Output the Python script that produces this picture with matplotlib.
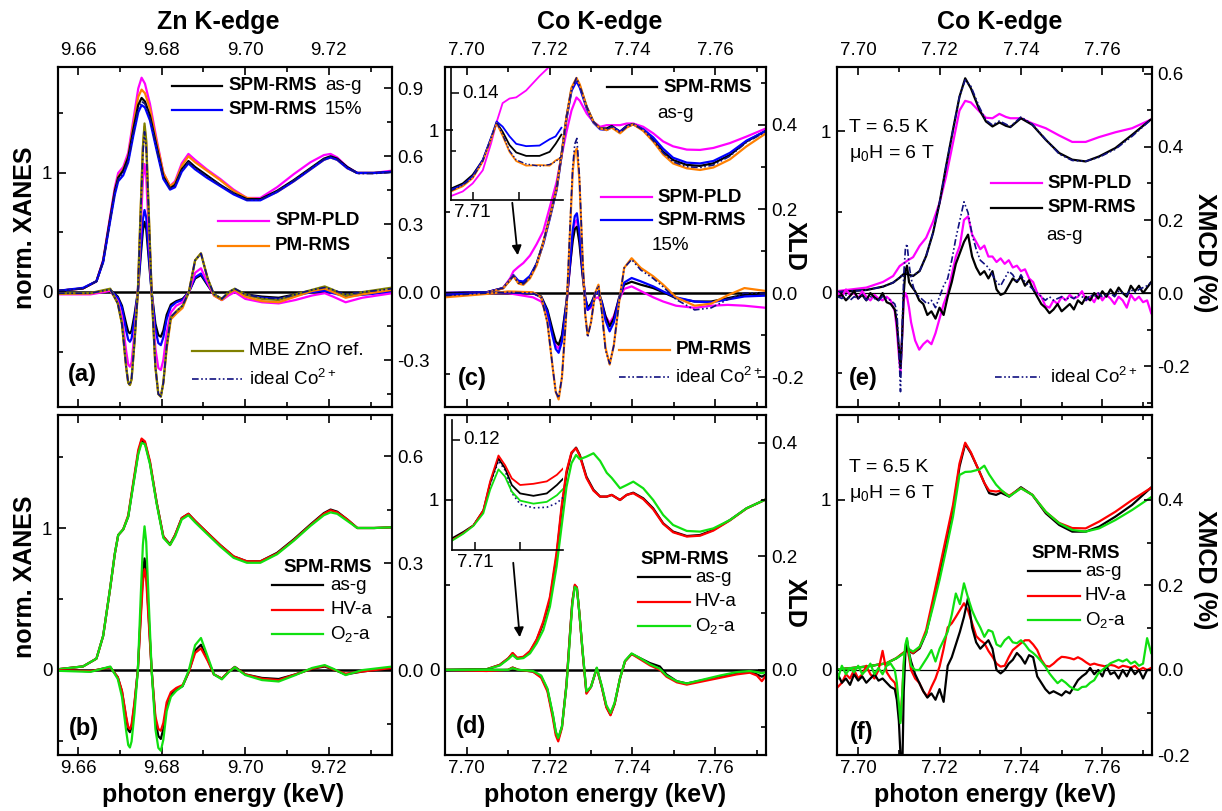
import matplotlib
matplotlib.use('Agg')
import matplotlib.pyplot as plt
from matplotlib.lines import Line2D
from matplotlib.ticker import MultipleLocator, FormatStrFormatter, FixedLocator

plt.rcParams['font.family'] = 'Liberation Sans'
plt.rcParams['mathtext.fontset'] = 'custom'
plt.rcParams['mathtext.rm'] = 'Liberation Sans'
plt.rcParams['mathtext.it'] = 'Liberation Sans:italic'
plt.rcParams['mathtext.bf'] = 'Liberation Sans:bold'
plt.rcParams['axes.unicode_minus'] = False

# ---------------- (a) Zn K-edge ----------------
e_zn = [9.6552, 9.6612, 9.6644, 9.6660, 9.6676, 9.6688, 9.6696, 9.6708, 9.6720, 9.6732,
        9.6744, 9.6752, 9.6760, 9.6772, 9.6788, 9.6804, 9.6820, 9.6832, 9.6848, 9.6864,
        9.6880, 9.6908, 9.6940, 9.6972, 9.7004, 9.7036, 9.7076, 9.7116, 9.7156, 9.7188,
        9.7204, 9.7220, 9.7244, 9.7268, 9.7308, 9.7352]
xanes_a_asg = [0.01, 0.03, 0.09, 0.26, 0.60, 0.85, 0.96, 1.02, 1.13, 1.36, 1.57, 1.63, 1.60, 1.48, 1.22, 0.97, 0.87, 0.90,
               1.03, 1.10, 1.05, 0.98, 0.90, 0.83, 0.78, 0.78, 0.85, 0.94, 1.04, 1.12, 1.14, 1.12, 1.05, 1.00, 1.00, 1.01]
xanes_a_15 = [0.01, 0.035, 0.09, 0.25, 0.58, 0.82, 0.93, 0.98, 1.09, 1.31, 1.51, 1.57, 1.55, 1.44, 1.19, 0.95, 0.86, 0.88,
              1.01, 1.08, 1.03, 0.96, 0.89, 0.82, 0.77, 0.77, 0.84, 0.93, 1.03, 1.11, 1.13, 1.11, 1.04, 1.00, 1.00, 1.01]
xanes_a_pld = [0.01, 0.03, 0.09, 0.27, 0.62, 0.88, 1.00, 1.05, 1.17, 1.44, 1.71, 1.80, 1.75, 1.58, 1.28, 1.00, 0.89, 0.93,
               1.08, 1.16, 1.11, 1.03, 0.95, 0.86, 0.79, 0.79, 0.88, 0.99, 1.09, 1.15, 1.16, 1.13, 1.05, 1.00, 1.00, 1.02]
xanes_a_pm = [0.01, 0.03, 0.09, 0.26, 0.60, 0.85, 0.97, 1.03, 1.14, 1.40, 1.64, 1.70, 1.67, 1.54, 1.26, 1.00, 0.89, 0.92,
              1.06, 1.14, 1.09, 1.02, 0.94, 0.85, 0.79, 0.78, 0.84, 0.93, 1.03, 1.11, 1.13, 1.11, 1.04, 1.00, 1.00, 1.01]
xanes_a_ideal = [0.01, 0.03, 0.09, 0.25, 0.59, 0.84, 0.95, 1.00, 1.10, 1.33, 1.54, 1.60, 1.58, 1.46, 1.20, 0.96, 0.87, 0.89,
                 1.02, 1.09, 1.04, 0.97, 0.90, 0.83, 0.775, 0.775, 0.845, 0.935, 1.035, 1.115, 1.135, 1.115, 1.045, 0.995, 0.995, 1.005]

e_zn_xld = [9.6552, 9.6630, 9.6677, 9.6695, 9.6705, 9.6715, 9.6720, 9.6724, 9.6728, 9.6735,
            9.6743, 9.6750, 9.6755, 9.6759, 9.6763, 9.6768, 9.6776, 9.6785, 9.6792, 9.6798,
            9.6804, 9.6812, 9.6822, 9.6835, 9.6850, 9.6865, 9.6880, 9.6894, 9.6910, 9.6925,
            9.6944, 9.6960, 9.6975, 9.7000, 9.7040, 9.7080, 9.7120, 9.7160, 9.7190, 9.7210,
            9.7240, 9.7280, 9.7352]
xld_a_asg = [-0.004, -0.006, 0.01, -0.02, -0.06, -0.14, -0.175, -0.182, -0.17, -0.10, 0.0, 0.16, 0.27, 0.31, 0.28, 0.17,
             0.0, -0.14, -0.19, -0.197, -0.17, -0.10, -0.055, -0.04, -0.03, 0.0, 0.06, 0.075, 0.03, -0.01, -0.03, -0.005,
             0.01, -0.01, -0.02, -0.025, -0.01, 0.005, 0.01, 0.0, -0.015, -0.008, 0.005]
xld_a_15 = [-0.004, -0.006, 0.01, -0.025, -0.07, -0.17, -0.21, -0.219, -0.205, -0.12, 0.0, 0.19, 0.32, 0.362, 0.33, 0.2,
            0.0, -0.165, -0.225, -0.234, -0.2, -0.12, -0.065, -0.045, -0.035, 0.0, 0.065, 0.082, 0.035, -0.01, -0.035,
            -0.01, 0.008, -0.012, -0.025, -0.03, -0.015, 0.0, 0.005, -0.005, -0.018, -0.012, 0.0]
xld_a_pld = [-0.01, -0.01, 0.005, -0.04, -0.11, -0.26, -0.32, -0.329, -0.31, -0.18, 0.0, 0.29, 0.49, 0.565, 0.51, 0.31,
             0.0, -0.25, -0.335, -0.344, -0.3, -0.18, -0.09, -0.06, -0.045, 0.0, 0.085, 0.105, 0.04, -0.015, -0.035,
             -0.015, 0.0, -0.03, -0.045, -0.05, -0.035, -0.015, -0.005, -0.02, -0.045, -0.025, -0.005]
xld_a_mbe = [-0.005, -0.004, 0.015, -0.05, -0.14, -0.33, -0.40, -0.41, -0.385, -0.22, 0.0, 0.38, 0.64, 0.744, 0.67, 0.41,
             0.0, -0.33, -0.45, -0.462, -0.40, -0.24, -0.11, -0.085, -0.06, 0.0, 0.14, 0.171, 0.06, -0.01, -0.03, 0.0,
             0.015, -0.01, -0.03, -0.035, -0.01, 0.01, 0.025, 0.01, -0.015, 0.0, 0.02]
xld_a_pm = [-0.008, -0.006, 0.012, -0.05, -0.14, -0.33, -0.40, -0.41, -0.385, -0.22, 0.0, 0.37, 0.63, 0.73, 0.66, 0.40,
            0.0, -0.33, -0.45, -0.46, -0.40, -0.25, -0.12, -0.095, -0.07, 0.0, 0.14, 0.17, 0.06, -0.015, -0.035, -0.005,
            0.01, -0.02, -0.04, -0.045, -0.02, 0.005, 0.015, 0.0, -0.025, -0.01, 0.01]
xld_a_ideal = [-0.005, -0.005, 0.012, -0.05, -0.14, -0.33, -0.40, -0.41, -0.38, -0.22, 0.0, 0.36, 0.61, 0.707, 0.64, 0.40,
               0.0, -0.33, -0.45, -0.46, -0.40, -0.24, -0.11, -0.085, -0.06, 0.0, 0.14, 0.17, 0.06, -0.01, -0.03, 0.0,
               0.015, -0.01, -0.025, -0.03, -0.01, 0.01, 0.02, 0.01, -0.01, 0.0, 0.015]

# ---------------- (b) Zn K-edge, annealing ----------------
xanes_b_asg = [0.005, 0.025, 0.08, 0.24, 0.56, 0.82, 0.95, 0.99, 1.08, 1.31, 1.53, 1.62, 1.60, 1.46, 1.18, 0.94, 0.885, 0.95,
               1.07, 1.10, 1.05, 0.97, 0.88, 0.80, 0.765, 0.765, 0.825, 0.92, 1.025, 1.105, 1.13, 1.115, 1.06, 1.00, 1.00, 1.005]
xanes_b_hv = [0.005, 0.025, 0.08, 0.24, 0.56, 0.82, 0.95, 0.99, 1.09, 1.32, 1.55, 1.63, 1.61, 1.47, 1.18, 0.94, 0.88, 0.95,
              1.07, 1.10, 1.05, 0.97, 0.88, 0.80, 0.765, 0.765, 0.82, 0.915, 1.02, 1.10, 1.125, 1.11, 1.06, 1.00, 1.00, 1.005]
xanes_b_o2 = [0.005, 0.025, 0.08, 0.24, 0.56, 0.82, 0.95, 0.99, 1.08, 1.30, 1.52, 1.60, 1.59, 1.45, 1.17, 0.93, 0.88, 0.94,
              1.06, 1.09, 1.04, 0.96, 0.87, 0.79, 0.755, 0.755, 0.815, 0.91, 1.015, 1.09, 1.11, 1.10, 1.05, 1.00, 1.00, 1.005]
xld_b_asg = [0.0, -0.003, 0.008, -0.02, -0.06, -0.135, -0.168, -0.174, -0.16, -0.095, 0.0, 0.16, 0.27, 0.313, 0.28, 0.17,
             0.0, -0.14, -0.185, -0.193, -0.165, -0.1, -0.068, -0.055, -0.045, -0.005, 0.055, 0.071, 0.03, -0.012, -0.024,
             -0.005, 0.009, -0.012, -0.022, -0.025, -0.012, 0.004, 0.01, 0.002, -0.012, -0.004, 0.006]
xld_b_hv = [0.0, -0.003, 0.008, -0.02, -0.058, -0.13, -0.16, -0.165, -0.152, -0.09, 0.0, 0.145, 0.245, 0.283, 0.255, 0.155,
            0.0, -0.13, -0.165, -0.17, -0.148, -0.09, -0.062, -0.05, -0.042, -0.005, 0.048, 0.061, 0.026, -0.012, -0.024,
            -0.005, 0.008, -0.012, -0.024, -0.028, -0.012, 0.004, 0.012, 0.002, -0.01, -0.004, 0.006]
xld_b_o2 = [-0.002, -0.005, 0.01, -0.025, -0.075, -0.17, -0.21, -0.217, -0.2, -0.12, 0.0, 0.21, 0.35, 0.403, 0.36, 0.22,
            0.0, -0.165, -0.218, -0.226, -0.195, -0.115, -0.075, -0.058, -0.045, 0.0, 0.07, 0.09, 0.038, -0.012, -0.026,
            -0.006, 0.008, -0.014, -0.028, -0.032, -0.014, 0.006, 0.014, 0.004, -0.014, 0.0, 0.01]

# ---------------- (c) Co K-edge ----------------
e_co_c = [7.6948, 7.7048, 7.7088, 7.7105, 7.7113, 7.7125, 7.7137, 7.7153, 7.7169, 7.7185,
          7.7201, 7.7217, 7.7229, 7.7241, 7.7253, 7.7265, 7.7273, 7.7290, 7.7306, 7.7322,
          7.7338, 7.7350, 7.7370, 7.7386, 7.7402, 7.7426, 7.7450, 7.7474, 7.7498, 7.7531,
          7.7563, 7.7595, 7.7635, 7.7675, 7.7722]
xanes_c_asg = [0.0, 0.004, 0.03, 0.08, 0.106, 0.065, 0.06, 0.10, 0.18, 0.31, 0.47, 0.64, 0.85, 1.08, 1.25, 1.31, 1.27, 1.14,
               1.05, 1.01, 1.01, 1.025, 0.99, 1.025, 1.037, 1.0, 0.94, 0.867, 0.816, 0.786, 0.78, 0.796, 0.847, 0.93, 0.996]
xanes_c_15 = [0.0, 0.004, 0.03, 0.082, 0.11, 0.075, 0.07, 0.105, 0.18, 0.30, 0.46, 0.63, 0.84, 1.07, 1.24, 1.30, 1.26, 1.13,
              1.045, 1.005, 1.0, 1.02, 0.99, 1.02, 1.035, 1.005, 0.955, 0.885, 0.83, 0.80, 0.795, 0.81, 0.86, 0.935, 0.995]
xanes_c_pld = [0.0, 0.004, 0.03, 0.09, 0.133, 0.16, 0.184, 0.23, 0.30, 0.38, 0.53, 0.68, 0.84, 0.99, 1.12, 1.20, 1.18, 1.10,
               1.05, 1.02, 1.03, 1.03, 1.03, 1.04, 1.04, 1.02, 0.98, 0.93, 0.90, 0.88, 0.878, 0.89, 0.92, 0.96, 1.01]
xanes_c_pm = [-0.01, 0.0, 0.028, 0.078, 0.105, 0.058, 0.05, 0.09, 0.17, 0.31, 0.47, 0.64, 0.85, 1.08, 1.26, 1.32, 1.28, 1.14,
              1.05, 1.01, 1.0, 1.015, 0.98, 1.015, 1.035, 0.995, 0.93, 0.85, 0.795, 0.765, 0.755, 0.77, 0.82, 0.90, 0.98]
xanes_c_ideal = [0.0, 0.004, 0.03, 0.08, 0.106, 0.06, 0.055, 0.095, 0.18, 0.31, 0.47, 0.64, 0.85, 1.08, 1.25, 1.32, 1.27, 1.14,
                 1.05, 1.01, 1.005, 1.02, 0.985, 1.02, 1.035, 1.0, 0.935, 0.86, 0.805, 0.775, 0.77, 0.785, 0.84, 0.925, 0.99]

e_co_xld_c = [7.6948, 7.7048, 7.7100, 7.7160, 7.7180, 7.7195, 7.7208, 7.7215, 7.7222, 7.7230,
              7.7241, 7.7250, 7.7256, 7.7261, 7.7266, 7.7272, 7.7280, 7.7286, 7.7292, 7.7300,
              7.7310, 7.7318, 7.7326, 7.7335, 7.7345, 7.7355, 7.7368, 7.7380, 7.7398, 7.7420,
              7.7450, 7.7474, 7.7505, 7.7550, 7.7590, 7.7630, 7.7670, 7.7722]
xld_c_asg = [-0.004, 0.0, 0.002, 0.0, -0.008, -0.04, -0.09, -0.115, -0.123, -0.10, -0.02, 0.07, 0.125, 0.152, 0.158, 0.12,
             0.04, -0.01, -0.035, -0.025, -0.002, 0.002, -0.02, -0.055, -0.079, -0.06, -0.01, 0.02, 0.027, 0.02, 0.012,
             0.002, -0.012, -0.02, -0.02, -0.012, -0.004, 0.0]
xld_c_15 = [-0.004, 0.0, 0.002, 0.0, -0.01, -0.045, -0.105, -0.133, -0.142, -0.115, -0.025, 0.08, 0.15, 0.183, 0.19, 0.145,
            0.05, -0.01, -0.04, -0.03, -0.003, 0.004, -0.022, -0.065, -0.091, -0.07, -0.012, 0.025, 0.036, 0.028, 0.016,
            0.004, -0.01, -0.02, -0.022, -0.015, -0.008, -0.006]
xld_c_pld = [-0.004, 0.0, 0.0, -0.01, -0.02, -0.05, -0.1, -0.125, -0.132, -0.105, -0.025, 0.07, 0.135, 0.168, 0.174, 0.13,
             0.045, -0.01, -0.04, -0.035, -0.012, -0.01, -0.025, -0.055, -0.071, -0.055, -0.015, 0.01, 0.016, 0.005, -0.01,
             -0.02, -0.03, -0.035, -0.03, -0.028, -0.03, -0.035]
xld_c_pm = [-0.01, -0.002, 0.004, 0.002, -0.01, -0.07, -0.18, -0.235, -0.253, -0.2, -0.04, 0.16, 0.29, 0.335, 0.344, 0.27,
            0.08, -0.05, -0.1, -0.07, 0.0, 0.02, -0.04, -0.13, -0.17, -0.125, -0.02, 0.06, 0.083, 0.06, 0.04, 0.02, -0.01,
            -0.03, -0.025, -0.005, 0.012, 0.005]
xld_c_ideal = [-0.006, 0.0, 0.002, 0.0, -0.01, -0.07, -0.18, -0.235, -0.25, -0.2, -0.04, 0.17, 0.30, 0.355, 0.368, 0.28,
               0.08, -0.05, -0.105, -0.07, 0.0, 0.018, -0.045, -0.135, -0.168, -0.125, -0.02, 0.06, 0.08, 0.055, 0.035,
               0.015, -0.015, -0.04, -0.035, -0.015, 0.0, 0.0]

# inset of (c): pre-edge
e_inset_c = [7.70906, 7.70957, 7.71000, 7.71044, 7.71080, 7.71104, 7.71130, 7.71160, 7.71189, 7.71232, 7.71290,
             7.71334, 7.71360, 7.71385]
inset_c_asg = [0.1234, 0.1243, 0.1258, 0.1284, 0.1322, 0.1349, 0.1333, 0.1310, 0.1297, 0.1291, 0.1291, 0.1298, 0.1312, 0.1328]
inset_c_15 = [0.1232, 0.1240, 0.1255, 0.1284, 0.1323, 0.1351, 0.1342, 0.1325, 0.1312, 0.1308, 0.1309, 0.1320, 0.1325, 0.1340]
inset_c_pm = [0.1229, 0.1238, 0.1252, 0.1281, 0.1320, 0.1348, 0.1326, 0.1298, 0.1282, 0.1274, 0.1275, 0.1274, 0.1283, 0.1288]
inset_c_ideal = [0.1230, 0.1240, 0.1253, 0.1282, 0.1322, 0.1350, 0.1328, 0.1300, 0.1284, 0.1277, 0.1273, 0.1276, 0.1281, 0.1290]
inset_c_pld = [0.1221, 0.1229, 0.1243, 0.1266, 0.1313, 0.1350, 0.1383, 0.1391, 0.1393, 0.1405, 0.1430, 0.1447, 0.1460, 0.1470]

# ---------------- (d) Co K-edge, annealing ----------------
e_co_d = [7.6948, 7.7048, 7.7080, 7.7101, 7.7111, 7.7122, 7.7137, 7.7153, 7.7169, 7.7185,
          7.7201, 7.7217, 7.7229, 7.7241, 7.7253, 7.7264, 7.7273, 7.7289, 7.7306, 7.7322,
          7.7338, 7.7350, 7.7370, 7.7386, 7.7402, 7.7426, 7.7450, 7.7474, 7.7498, 7.7531,
          7.7563, 7.7595, 7.7635, 7.7675, 7.7722]
xanes_d_asg = [0.0, 0.004, 0.03, 0.069, 0.098, 0.069, 0.075, 0.108, 0.176, 0.275, 0.41, 0.667, 0.941, 1.157, 1.275, 1.308,
               1.265, 1.137, 1.06, 1.02, 1.02, 1.03, 1.0, 1.03, 1.043, 1.01, 0.951, 0.863, 0.814, 0.788, 0.794, 0.824,
               0.882, 0.951, 1.004]
xanes_d_hv = [0.0, 0.004, 0.03, 0.07, 0.1, 0.072, 0.078, 0.112, 0.18, 0.285, 0.43, 0.69, 0.96, 1.17, 1.28, 1.305, 1.26, 1.13,
              1.055, 1.02, 1.02, 1.03, 1.0, 1.03, 1.04, 1.005, 0.945, 0.86, 0.81, 0.785, 0.79, 0.82, 0.88, 0.95, 1.004]
xanes_d_o2 = [0.0, 0.004, 0.026, 0.065, 0.088, 0.065, 0.07, 0.098, 0.157, 0.235, 0.373, 0.608, 0.843, 1.078, 1.216, 1.265,
              1.24, 1.255, 1.275, 1.23, 1.16, 1.13, 1.069, 1.088, 1.108, 1.069, 1.0, 0.912, 0.853, 0.818, 0.814, 0.833,
              0.882, 0.951, 1.004]

e_co_xld_d = [7.6948, 7.7048, 7.7100, 7.7111, 7.7125, 7.7160, 7.7180, 7.7195, 7.7208, 7.7215,
              7.7221, 7.7230, 7.7241, 7.7249, 7.7255, 7.7261, 7.7266, 7.7272, 7.7280, 7.7289,
              7.7300, 7.7314, 7.7326, 7.7337, 7.7347, 7.7357, 7.7370, 7.7382, 7.7398, 7.7420,
              7.7442, 7.7466, 7.7482, 7.7507, 7.7531, 7.7571, 7.7611, 7.7651, 7.7683, 7.7700,
              7.7712, 7.7722]
xld_d_asg = [0.0, 0.0, 0.0, 0.004, 0.0, -0.003, -0.012, -0.035, -0.08, -0.11, -0.122, -0.1, -0.025, 0.06, 0.12, 0.148,
             0.145, 0.1, 0.03, -0.04, -0.03, 0.003, -0.03, -0.065, -0.079, -0.06, -0.015, 0.015, 0.028, 0.02, 0.012, 0.006,
             -0.008, -0.02, -0.024, -0.018, -0.012, -0.006, -0.003, -0.008, -0.012, -0.008]
xld_d_hv = [0.0, -0.002, 0.0, 0.004, 0.0, -0.003, -0.014, -0.038, -0.085, -0.115, -0.126, -0.102, -0.025, 0.06, 0.12, 0.15,
            0.145, 0.1, 0.03, -0.042, -0.03, 0.003, -0.03, -0.066, -0.08, -0.06, -0.015, 0.015, 0.028, 0.018, 0.008, 0.0,
            -0.012, -0.022, -0.026, -0.02, -0.014, -0.008, -0.005, -0.01, -0.02, -0.01]
xld_d_o2 = [0.0, 0.0, 0.0, 0.003, 0.0, -0.002, -0.01, -0.033, -0.078, -0.108, -0.12, -0.1, -0.028, 0.055, 0.115, 0.146,
            0.143, 0.1, 0.032, -0.038, -0.03, 0.004, -0.028, -0.062, -0.076, -0.058, -0.015, 0.016, 0.029, 0.02, 0.01,
            0.002, -0.01, -0.02, -0.024, -0.017, -0.01, -0.004, -0.002, -0.004, -0.006, -0.004]

e_inset_d = [7.70896, 7.70948, 7.70993, 7.71037, 7.71067, 7.71104, 7.71133, 7.71163, 7.71200, 7.71259, 7.71318,
             7.71363, 7.71392]
inset_d_asg = [0.1036, 0.1047, 0.1058, 0.1083, 0.1128, 0.1169, 0.1153, 0.1125, 0.1111, 0.1107, 0.1111, 0.1125, 0.1136]
inset_d_hv = [0.1033, 0.1045, 0.1058, 0.1083, 0.1131, 0.1174, 0.1158, 0.1136, 0.1125, 0.1127, 0.1131, 0.1142, 0.1153]
inset_d_o2 = [0.1032, 0.1044, 0.1057, 0.1078, 0.1117, 0.1151, 0.1139, 0.1114, 0.1099, 0.1094, 0.1097, 0.1108, 0.1119]
inset_d_ideal = [0.1034, 0.1046, 0.1058, 0.1082, 0.1126, 0.1165, 0.1150, 0.1112, 0.1093, 0.1087, 0.1088, 0.1095, 0.1105]

# ---------------- (e) Co K-edge, XMCD ----------------
e_co_e = [7.6951, 7.7020, 7.7061, 7.7086, 7.7102, 7.7114, 7.7122, 7.7135, 7.7151, 7.7167,
          7.7184, 7.7200, 7.7216, 7.7233, 7.7249, 7.7263, 7.7277, 7.7298, 7.7314, 7.7330,
          7.7347, 7.7363, 7.7374, 7.7400, 7.7428, 7.7461, 7.7494, 7.7526, 7.7559, 7.7592,
          7.7632, 7.7673, 7.7718]
xanes_e_asg = [0.004, 0.016, 0.037, 0.062, 0.093, 0.12, 0.113, 0.103, 0.134, 0.227, 0.371, 0.557, 0.784, 1.01, 1.216, 1.33,
               1.268, 1.134, 1.062, 1.031, 1.056, 1.035, 1.027, 1.082, 1.041, 0.948, 0.866, 0.825, 0.814, 0.845, 0.897,
               0.979, 1.072]
xanes_e_pld = [0.01, 0.031, 0.066, 0.103, 0.165, 0.186, 0.2, 0.22, 0.29, 0.34, 0.44, 0.557, 0.72, 0.93, 1.13, 1.19, 1.18,
               1.124, 1.085, 1.082, 1.109, 1.09, 1.082, 1.082, 1.05, 1.02, 0.975, 0.935, 0.935, 0.965, 0.995, 1.02, 1.072]
xanes_e_ideal = [0.004, 0.016, 0.037, 0.062, 0.093, 0.125, 0.118, 0.105, 0.134, 0.227, 0.371, 0.557, 0.784, 1.01, 1.216,
                 1.32, 1.28, 1.15, 1.07, 1.04, 1.065, 1.045, 1.03, 1.09, 1.045, 0.95, 0.86, 0.82, 0.815, 0.84, 0.89, 0.97,
                 1.07]

e_xmcd = [7.695, 7.696, 7.697, 7.698, 7.699, 7.700, 7.701, 7.702, 7.703, 7.704, 7.705, 7.706, 7.707, 7.708, 7.709,
          7.7095, 7.710, 7.7104, 7.7108, 7.7112, 7.7116, 7.712, 7.7125,
          7.713, 7.714, 7.715, 7.716, 7.717, 7.718, 7.719, 7.720, 7.721, 7.722,
          7.723, 7.724, 7.725, 7.726, 7.727, 7.728, 7.729, 7.730, 7.731, 7.732,
          7.733, 7.734, 7.735, 7.736, 7.737, 7.738, 7.739, 7.740, 7.741, 7.742,
          7.743, 7.744, 7.745, 7.746, 7.747, 7.748, 7.749, 7.750, 7.751, 7.752,
          7.753, 7.754, 7.755, 7.756, 7.757, 7.758, 7.759, 7.760, 7.761, 7.762,
          7.763, 7.764, 7.765, 7.766, 7.767, 7.768, 7.769, 7.770, 7.771, 7.772]
xmcd_e_asg = [-0.01, -0.005, -0.02, -0.008, 0.005, -0.015, -0.005, -0.02, 0.0, -0.012, -0.02, 0.0, -0.025, -0.03, -0.045,
              -0.08, -0.15, -0.205, -0.12, 0.0, 0.06, 0.075, 0.03,
              0.02, 0.005, -0.02, -0.03, -0.06, -0.05, -0.07, -0.04, -0.06, -0.01,
              0.03, 0.08, 0.11, 0.14, 0.16, 0.1, 0.07, 0.05, 0.06, 0.04,
              0.06, 0.01, -0.005, 0.0, 0.02, 0.04, 0.03, 0.045, 0.02, 0.035,
              0.01, -0.01, -0.03, -0.04, -0.055, -0.045, -0.03, -0.05, -0.04, -0.03,
              -0.045, -0.02, -0.03, -0.01, -0.02, 0.0, -0.015, 0.005, -0.01, 0.01,
              -0.005, 0.015, 0.0, -0.01, 0.02, 0.005, 0.02, 0.0, 0.015, 0.03]
xmcd_e_pld = [0.0, -0.01, 0.01, -0.005, 0.0, -0.015, 0.005, -0.01, -0.02, -0.005, -0.015, -0.02, -0.01, -0.02, -0.05,
              -0.1, -0.17, -0.22, -0.12, -0.02, 0.0, -0.01, -0.04,
              -0.08, -0.13, -0.155, -0.14, -0.13, -0.14, -0.11, -0.07, -0.03, 0.0,
              0.05, 0.1, 0.13, 0.2, 0.21, 0.16, 0.14, 0.12, 0.13, 0.1,
              0.1, 0.085, 0.095, 0.08, 0.09, 0.07, 0.075, 0.06, 0.065, 0.04,
              0.03, 0.0, -0.01, -0.035, -0.04, -0.02, -0.03, -0.01, -0.02, -0.005,
              -0.015, -0.01, 0.005, -0.02, -0.01, -0.025, 0.0, -0.02, -0.005, -0.015,
              -0.03, -0.01, -0.02, -0.04, -0.005, -0.02, -0.01, -0.025, -0.02, -0.055]
xmcd_e_ideal = [-0.01, -0.015, -0.005, -0.02, -0.01, -0.015, -0.005, -0.02, -0.01, -0.015, -0.02, -0.01, -0.015, -0.02, -0.03,
                -0.05, -0.15, -0.27, -0.1, 0.05, 0.12, 0.135, 0.08,
                0.04, 0.0, -0.01, -0.02, -0.03, -0.02, -0.04, -0.01, 0.02, 0.04,
                0.09, 0.15, 0.2, 0.25, 0.22, 0.16, 0.12, 0.09, 0.08, 0.07,
                0.05, 0.03, 0.02, 0.04, 0.06, 0.05, 0.03, 0.05, 0.03, 0.02,
                0.01, 0.0, -0.01, -0.02, -0.01, -0.02, -0.015, -0.01, -0.02, -0.01,
                -0.015, -0.005, -0.01, -0.02, -0.005, -0.01, 0.0, -0.01, -0.005, 0.0,
                -0.01, 0.005, 0.0, -0.005, 0.01, 0.0, 0.01, 0.015, 0.02, 0.03]

# ---------------- (f) Co K-edge, XMCD, annealing ----------------
e_co_f = [7.6951, 7.7020, 7.7069, 7.7094, 7.7110, 7.7122, 7.7135, 7.7151, 7.7167, 7.7184,
          7.7200, 7.7216, 7.7233, 7.7249, 7.7263, 7.7277, 7.7298, 7.7310, 7.7322, 7.7339,
          7.7351, 7.7371, 7.7400, 7.7428, 7.7461, 7.7494, 7.7526, 7.7559, 7.7592, 7.7632,
          7.7673, 7.7722]
xanes_f_asg = [0.004, 0.02, 0.039, 0.069, 0.098, 0.118, 0.098, 0.127, 0.216, 0.392, 0.569, 0.745, 0.941, 1.196, 1.33, 1.275,
               1.167, 1.1, 1.04, 1.03, 1.043, 1.02, 1.075, 1.03, 0.922, 0.853, 0.814, 0.814, 0.843, 0.902, 0.971, 1.078]
xanes_f_hv = [0.004, 0.02, 0.04, 0.07, 0.1, 0.12, 0.1, 0.135, 0.235, 0.42, 0.6, 0.78, 0.97, 1.215, 1.337, 1.28, 1.165, 1.1,
              1.055, 1.05, 1.055, 1.025, 1.07, 1.03, 0.93, 0.865, 0.835, 0.833, 0.873, 0.931, 1.0, 1.075]
xanes_f_o2 = [0.004, 0.02, 0.039, 0.069, 0.094, 0.127, 0.108, 0.137, 0.216, 0.373, 0.53, 0.706, 0.902, 1.147, 1.165, 1.167,
              1.18, 1.202, 1.15, 1.09, 1.06, 1.02, 1.069, 1.03, 0.931, 0.863, 0.824, 0.814, 0.833, 0.882, 0.941, 1.02]
xmcd_f_asg = [-0.01, -0.03, -0.02, -0.035, -0.01, -0.025, -0.015, -0.03, -0.02, -0.01, -0.025, -0.02, -0.03, -0.04, -0.045,
              -0.07, -0.12, -0.2, -0.26, -0.05, 0.04, 0.07, 0.04,
              0.02, -0.01, -0.03, -0.05, -0.065, -0.055, -0.07, -0.045, -0.075, 0.01,
              0.03, 0.06, 0.09, 0.125, 0.17, 0.1, 0.065, 0.05, 0.06, 0.07,
              0.05, 0.0, -0.008, 0.0, 0.015, 0.024, 0.04, 0.03, 0.015, 0.035,
              0.03, -0.015, -0.03, -0.045, -0.055, -0.05, -0.055, -0.06, -0.05, -0.055,
              -0.04, -0.024, -0.015, -0.008, 0.005, -0.01, 0.0, -0.015, 0.01, -0.01,
              -0.005, -0.02, 0.0, -0.015, 0.005, -0.01, 0.0, -0.02, 0.0, 0.0]
xmcd_f_hv = [-0.04, -0.03, -0.01, -0.02, 0.0, -0.02, -0.01, 0.01, -0.01, -0.02, 0.0, 0.045, -0.005, -0.02, -0.03,
             -0.05, -0.09, -0.12, -0.06, 0.01, 0.05, 0.055, 0.03,
             0.0, -0.02, -0.03, -0.05, -0.063, -0.04, -0.02, 0.008, 0.05, 0.1,
             0.11, 0.125, 0.141, 0.157, 0.14, 0.11, 0.08, 0.07, 0.063, 0.045,
             0.031, 0.015, 0.008, 0.01, 0.03, 0.047, 0.055, 0.063, 0.07, 0.07,
             0.06, 0.047, 0.024, 0.01, 0.008, 0.015, 0.024, 0.031, 0.03, 0.028,
             0.025, 0.03, 0.025, 0.018, 0.012, 0.015, 0.012, 0.01, 0.008, 0.012,
             0.01, 0.005, 0.01, 0.008, 0.005, 0.01, 0.0, 0.005, 0.0, 0.005]
xmcd_f_o2 = [-0.02, 0.01, -0.01, 0.005, -0.005, 0.01, -0.01, 0.0, 0.015, -0.01, 0.005, -0.01, 0.01, 0.015, 0.0,
             -0.03, -0.08, -0.125, -0.06, 0.02, 0.06, 0.075, 0.04,
             0.01, 0.0, 0.0, 0.015, 0.03, 0.047, 0.02, 0.05, 0.07, 0.09,
             0.13, 0.18, 0.155, 0.204, 0.17, 0.14, 0.118, 0.1, 0.078, 0.094,
             0.09, 0.06, 0.055, 0.07, 0.078, 0.065, 0.063, 0.07, 0.06, 0.047,
             0.04, 0.031, 0.02, 0.008, -0.008, -0.02, -0.031, -0.023, -0.03, -0.039,
             -0.045, -0.047, -0.04, -0.039, -0.03, -0.024, -0.008, 0.0, 0.008, 0.016,
             0.02, 0.024, 0.02, 0.025, 0.015, 0.02, 0.01, 0.015, 0.075, 0.04]

# ---------------- drawing ----------------
W, H = 1222, 811
BLK, BLU, MAG, ORA, OLV, NAV = 'black', '#0000ff', '#ff00ff', '#ff8000', '#808000', '#101080'
RED, GRN = '#ff0000', '#10e010'
IDEAL = (0, (4, 1.5, 1, 1.5, 1, 1.5))
LW = 1.6
FS = 13.5

fig = plt.figure(figsize=(W / 100, H / 100), dpi=100)


def fx(x):
    return x / W


def fy(y):
    return 1 - y / H


def panel(left, right, top, bottom, xlim, ylim, rlim, rticks, rminor, top_row):
    ax = fig.add_axes([fx(left), fy(bottom), (right - left) / W, (bottom - top) / H])
    axr = ax.twinx()
    ax.set_xlim(xlim)
    ax.set_ylim(ylim)
    axr.set_ylim(rlim)
    ax.xaxis.set_major_locator(MultipleLocator(0.02))
    ax.xaxis.set_minor_locator(MultipleLocator(0.01))
    ax.xaxis.set_major_formatter(FormatStrFormatter('%.2f'))
    ax.yaxis.set_major_locator(FixedLocator([0, 1]))
    ax.yaxis.set_minor_locator(MultipleLocator(0.5))
    ax.yaxis.set_major_formatter(FormatStrFormatter('%g'))
    axr.yaxis.set_major_locator(FixedLocator(rticks))
    axr.yaxis.set_minor_locator(MultipleLocator(rminor))
    axr.yaxis.set_major_formatter(FormatStrFormatter('%.1f'))
    ax.tick_params(which='both', direction='in', top=True, bottom=True, left=True, right=False,
                   width=1.2, labelsize=FS, labeltop=top_row, labelbottom=not top_row)
    ax.tick_params(axis='x', pad=6 if top_row else 3.5)
    ax.tick_params(axis='y', pad=4)
    ax.tick_params(which='major', length=6)
    ax.tick_params(which='minor', length=3.5)
    axr.tick_params(which='both', direction='in', right=True, left=False, width=1.2, labelsize=FS, pad=3.5)
    axr.tick_params(which='major', length=6)
    axr.tick_params(which='minor', length=3.5)
    for a in (ax, axr):
        for s in a.spines.values():
            s.set_linewidth(1.5)
    return ax, axr


def inset(left, right, top, bottom, xlim, ylim, ytick, ylabel_txt):
    ax = fig.add_axes([fx(left), fy(bottom), (right - left) / W, (bottom - top) / H])
    ax.set_facecolor('none')
    ax.spines['top'].set_visible(False)
    ax.spines['right'].set_visible(False)
    for s in ('left', 'bottom'):
        ax.spines[s].set_linewidth(1.2)
    ax.set_xlim(xlim)
    ax.set_ylim(ylim)
    ax.set_xticks([7.71])
    ax.set_xticks([7.712], minor=True)
    ax.set_xticklabels(['7.71'])
    ax.set_yticks([ytick])
    ax.set_yticklabels([])
    ax.tick_params(which='both', direction='in', width=1.1, labelsize=FS, pad=3)
    ax.tick_params(which='major', length=6)
    ax.tick_params(which='minor', length=6)
    ax.text(0.1, ytick, ylabel_txt, transform=ax.get_yaxis_transform(), fontsize=FS, va='center', ha='left')
    return ax


def leg_line(x1, x2, y, color, ls='-', lw=LW):
    fig.add_artist(Line2D([fx(x1), fx(x2)], [fy(y), fy(y)], transform=fig.transFigure,
                          color=color, ls=ls, lw=lw))


def txt(x, y, s, bold=False, size=FS, ha='left', rot=0):
    fig.text(fx(x), fy(y), s, fontsize=size, fontweight='bold' if bold else 'normal',
             ha=ha, va='center', rotation=rot)


ZN_X = (9.6552, 9.7351)
CO_X = (7.6948, 7.7722)

# (a)
ax, axr = panel(58, 392, 67, 407, ZN_X, (-0.966, 1.89), (-0.507, 0.993), [-0.3, 0.0, 0.3, 0.6, 0.9], 0.15, True)
ax.plot(e_zn, xanes_a_pld, color=MAG, lw=LW)
ax.plot(e_zn, xanes_a_pm, color=ORA, lw=LW)
ax.plot(e_zn, xanes_a_asg, color=BLK, lw=LW)
ax.plot(e_zn, xanes_a_15, color=BLU, lw=LW)
ax.plot(e_zn, xanes_a_ideal, color=NAV, lw=1.2, ls=IDEAL)
axr.axhline(0, color='black', lw=1.8)
axr.plot(e_zn_xld, xld_a_asg, color=BLK, lw=LW)
axr.plot(e_zn_xld, xld_a_15, color=BLU, lw=LW)
axr.plot(e_zn_xld, xld_a_pld, color=MAG, lw=LW)
axr.plot(e_zn_xld, xld_a_pm, color=ORA, lw=LW)
axr.plot(e_zn_xld, xld_a_mbe, color=OLV, lw=LW)
axr.plot(e_zn_xld, xld_a_ideal, color=NAV, lw=1.2, ls=IDEAL)

# (b)
ax, axr = panel(58, 392, 415, 755, ZN_X, (-0.599, 1.796), (-0.238, 0.715), [0.0, 0.3, 0.6], 0.15, False)
ax.plot(e_zn, xanes_b_asg, color=BLK, lw=LW)
ax.plot(e_zn, xanes_b_hv, color=RED, lw=LW)
ax.plot(e_zn, xanes_b_o2, color=GRN, lw=LW)
axr.axhline(0, color='black', lw=1.8)
axr.plot(e_zn_xld, xld_b_asg, color=BLK, lw=LW)
axr.plot(e_zn_xld, xld_b_hv, color=RED, lw=LW)
axr.plot(e_zn_xld, xld_b_o2, color=GRN, lw=LW)

# (c)
ax, axr = panel(445, 766, 67, 407, CO_X, (-0.70, 1.387), (-0.271, 0.538), [-0.2, 0.0, 0.2, 0.4], 0.1, True)
ax.plot(e_co_c, xanes_c_pld, color=MAG, lw=LW)
ax.plot(e_co_c, xanes_c_asg, color=BLK, lw=LW)
ax.plot(e_co_c, xanes_c_15, color=BLU, lw=LW)
ax.plot(e_co_c, xanes_c_pm, color=ORA, lw=LW)
ax.plot(e_co_c, xanes_c_ideal, color=NAV, lw=1.2, ls=IDEAL)
axr.axhline(0, color='black', lw=1.8)
axr.plot(e_co_xld_c, xld_c_pld, color=MAG, lw=LW)
axr.plot(e_co_xld_c, xld_c_asg, color=BLK, lw=LW)
axr.plot(e_co_xld_c, xld_c_15, color=BLU, lw=LW)
axr.plot(e_co_xld_c, xld_c_pm, color=ORA, lw=LW)
axr.plot(e_co_xld_c, xld_c_ideal, color=NAV, lw=1.2, ls=IDEAL)
ins = inset(451, 563, 68, 200, (7.70906, 7.71392), (0.12141, 0.14442), 0.14, '0.14')
ins.set_yticks([0.13], minor=True)
ins.tick_params(axis='y', which='minor', length=3.5)
ins.plot(e_inset_c, inset_c_pld, color=MAG, lw=1.3)
ins.plot(e_inset_c, inset_c_asg, color=BLK, lw=1.3)
ins.plot(e_inset_c, inset_c_15, color=BLU, lw=1.3)
ins.plot(e_inset_c, inset_c_pm, color=ORA, lw=1.3)
ins.plot(e_inset_c, inset_c_ideal, color=NAV, lw=1.0, ls=IDEAL)

# (d)
ax, axr = panel(445, 766, 415, 755, CO_X, (-0.5, 1.5), (-0.15, 0.449), [0.0, 0.2, 0.4], 0.1, False)
ax.plot(e_co_d, xanes_d_asg, color=BLK, lw=LW)
ax.plot(e_co_d, xanes_d_hv, color=RED, lw=LW)
ax.plot(e_co_d, xanes_d_o2, color=GRN, lw=LW)
axr.axhline(0, color='black', lw=1.8)
axr.plot(e_co_xld_d, xld_d_asg, color=BLK, lw=LW)
axr.plot(e_co_xld_d, xld_d_hv, color=RED, lw=LW)
axr.plot(e_co_xld_d, xld_d_o2, color=GRN, lw=LW)
ins = inset(452, 563, 420, 550, (7.70898, 7.7139), (0.1017, 0.1233), 0.12, '0.12')
ins.plot(e_inset_d, inset_d_ideal, color=NAV, lw=1.2, ls=':')
ins.plot(e_inset_d, inset_d_asg, color=BLK, lw=1.3)
ins.plot(e_inset_d, inset_d_hv, color=RED, lw=1.3)
ins.plot(e_inset_d, inset_d_o2, color=GRN, lw=1.3)

# (e)
ax, axr = panel(837, 1152, 67, 407, CO_X, (-0.71, 1.40), (-0.312, 0.619), [-0.2, 0.0, 0.2, 0.4, 0.6], 0.1, True)
ax.plot(e_co_e, xanes_e_pld, color=MAG, lw=LW)
ax.plot(e_co_e, xanes_e_asg, color=BLK, lw=LW)
ax.plot(e_co_e, xanes_e_ideal, color=NAV, lw=1.2, ls=IDEAL)
axr.axhline(0, color='black', lw=0.9)
axr.plot(e_xmcd, xmcd_e_pld, color=MAG, lw=LW)
axr.plot(e_xmcd, xmcd_e_asg, color=BLK, lw=LW)
axr.plot(e_xmcd, xmcd_e_ideal, color=NAV, lw=1.2, ls=IDEAL)

# (f)
ax, axr = panel(837, 1152, 415, 755, CO_X, (-0.5, 1.5), (-0.2, 0.6), [-0.2, 0.0, 0.2, 0.4], 0.1, False)
ax.plot(e_co_f, xanes_f_asg, color=BLK, lw=LW)
ax.plot(e_co_f, xanes_f_hv, color=RED, lw=LW)
ax.plot(e_co_f, xanes_f_o2, color=GRN, lw=LW)
axr.axhline(0, color='black', lw=0.9)
axr.plot(e_xmcd, xmcd_f_hv, color=RED, lw=LW)
axr.plot(e_xmcd, xmcd_f_asg, color=BLK, lw=LW)
axr.plot(e_xmcd, xmcd_f_o2, color=GRN, lw=LW)

# ---------------- titles, labels ----------------
txt(218, 22, 'Zn K-edge', bold=True, size=18, ha='center')
txt(600, 22, 'Co K-edge', bold=True, size=18, ha='center')
txt(1000, 22, 'Co K-edge', bold=True, size=18, ha='center')
for xc in (223, 605, 995):
    txt(xc, 795, 'photon energy (keV)', bold=True, size=18, ha='center')
txt(25, 228, 'norm. XANES', bold=True, size=18, ha='center', rot=90)
txt(25, 577, 'norm. XANES', bold=True, size=18, ha='center', rot=90)
txt(795, 246, 'XLD', bold=True, size=18, ha='center', rot=270)
txt(795, 603, 'XLD', bold=True, size=18, ha='center', rot=270)
txt(1205, 253, 'XMCD (%)', bold=True, size=18, ha='center', rot=270)
txt(1205, 570, 'XMCD (%)', bold=True, size=18, ha='center', rot=270)

for lbl, x, y in [('(a)', 82, 375), ('(b)', 84, 728), ('(c)', 472, 378),
                  ('(d)', 471, 727), ('(e)', 863, 378), ('(f)', 862, 732)]:
    txt(x, y, lbl, bold=True, size=17, ha='center')

# legend (a)
leg_line(172, 222, 86, BLK)
txt(228, 86, 'SPM-RMS', bold=True)
txt(325, 86, 'as-g')
leg_line(172, 222, 110, BLU)
txt(228, 110, 'SPM-RMS', bold=True)
txt(325, 110, '15%')
leg_line(218, 269, 221, MAG)
txt(275, 221, 'SPM-PLD', bold=True)
leg_line(218, 269, 246, ORA)
txt(275, 246, 'PM-RMS', bold=True)
leg_line(192, 243, 351, OLV)
txt(249, 351, 'MBE ZnO ref.')
leg_line(192, 243, 379, NAV, ls=IDEAL, lw=1.2)
txt(249, 379, 'ideal Co$^{2+}$')

# legend (c)
leg_line(607, 657, 87, BLK)
txt(663, 87, 'SPM-RMS', bold=True)
txt(657, 113, 'as-g')
leg_line(601, 652, 197, MAG)
txt(657, 197, 'SPM-PLD', bold=True)
leg_line(601, 652, 220, BLU)
txt(657, 220, 'SPM-RMS', bold=True)
txt(652, 246, '15%')
leg_line(619, 670, 350, ORA)
txt(676, 350, 'PM-RMS', bold=True)
leg_line(619, 670, 377, NAV, ls=IDEAL, lw=1.2)
txt(675, 377, 'ideal Co$^{2+}$')

# legend (e)
txt(849, 128, 'T = 6.5 K', size=14)
txt(849, 153, 'μ$_0$H = 6 T', size=14)
leg_line(991, 1042, 183, MAG)
txt(1047, 183, 'SPM-PLD', bold=True)
leg_line(991, 1042, 208, BLK)
txt(1047, 208, 'SPM-RMS', bold=True)
txt(1046, 235, 'as-g')
leg_line(995, 1040, 377, NAV, ls=IDEAL, lw=1.2)
txt(1050, 377, 'ideal Co$^{2+}$')

# legends (b), (d), (f)
for xc, y0, x1, x2, xt in [(328, 567, 272, 323, 330), (685, 559, 638, 690, 695), (1076, 553, 1028, 1080, 1085)]:
    txt(xc, y0, 'SPM-RMS', bold=True, ha='center')
    for k, (col, lab) in enumerate([(BLK, 'as-g'), (RED, 'HV-a'), (GRN, 'O$_2$-a')]):
        yy = y0 + 18 + 24.5 * k
        leg_line(x1, x2, yy, col)
        txt(xt, yy, lab)
txt(849, 468, 'T = 6.5 K', size=14)
txt(849, 493, 'μ$_0$H = 6 T', size=14)

# arrows pointing at the pre-edge
for (x1, y1, x2, y2) in [(512, 200, 518, 258), (513, 560, 520, 640)]:
    fig.add_artist(matplotlib.patches.FancyArrowPatch((fx(x1), fy(y1)), (fx(x2), fy(y2)),
                                                      transform=fig.transFigure, arrowstyle='-|>',
                                                      mutation_scale=14, color='black', lw=1.3))

fig.savefig('out.png', dpi=100)
